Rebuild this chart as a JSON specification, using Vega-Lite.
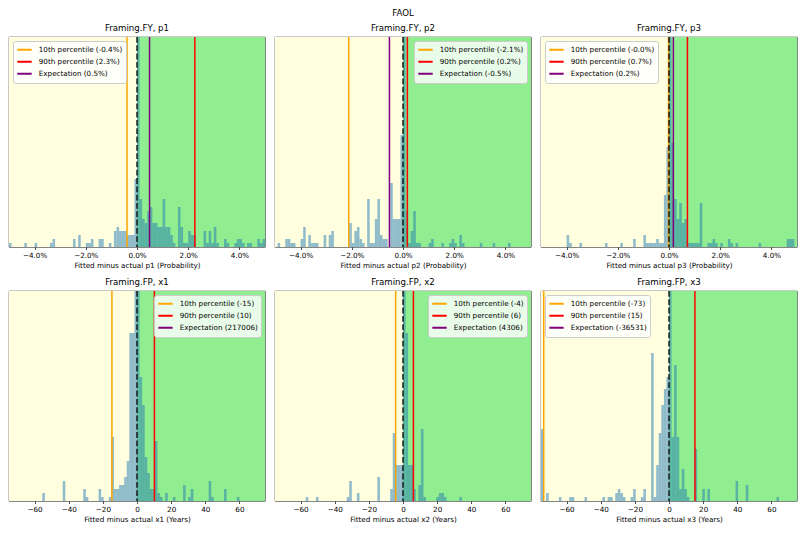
{
  "$schema": "https://vega.github.io/schema/vega-lite/v6.json",
  "padding": {"left": 8, "right": 8, "top": 8, "bottom": 4},
  "title": {"text": "FAOL", "anchor": "middle", "fontSize": 8.6, "offset": 6},
  "datasets": {
    "spans": [
      {"panel": "p1", "side": "below", "lo": -0.05, "hi": 0}, {"panel": "p1", "side": "above", "lo": 0, "hi": 0.05},
      {"panel": "p2", "side": "below", "lo": -0.05, "hi": 0}, {"panel": "p2", "side": "above", "lo": 0, "hi": 0.05},
      {"panel": "p3", "side": "below", "lo": -0.05, "hi": 0}, {"panel": "p3", "side": "above", "lo": 0, "hi": 0.05},
      {"panel": "x1", "side": "below", "lo": -75, "hi": 0}, {"panel": "x1", "side": "above", "lo": 0, "hi": 75},
      {"panel": "x2", "side": "below", "lo": -75, "hi": 0}, {"panel": "x2", "side": "above", "lo": 0, "hi": 75},
      {"panel": "x3", "side": "below", "lo": -75, "hi": 0}, {"panel": "x3", "side": "above", "lo": 0, "hi": 75}
    ],
    "lines": [
      {"panel": "p1", "label": "10th percentile (-0.4%)", "value": -0.0039},
      {"panel": "p1", "label": "90th percentile (2.3%)", "value": 0.0226},
      {"panel": "p1", "label": "Expectation (0.5%)", "value": 0.0049},
      {"panel": "p2", "label": "10th percentile (-2.1%)", "value": -0.0212},
      {"panel": "p2", "label": "90th percentile (0.2%)", "value": 0.0017},
      {"panel": "p2", "label": "Expectation (-0.5%)", "value": -0.0053},
      {"panel": "p3", "label": "10th percentile (-0.0%)", "value": -0.0002},
      {"panel": "p3", "label": "90th percentile (0.7%)", "value": 0.0072},
      {"panel": "p3", "label": "Expectation (0.2%)", "value": 0.0017},
      {"panel": "x1", "label": "10th percentile (-15)", "value": -14.7},
      {"panel": "x1", "label": "90th percentile (10)", "value": 10.2},
      {"panel": "x1", "label": "Expectation (217006)", "value": 217006},
      {"panel": "x2", "label": "10th percentile (-4)", "value": -4.3},
      {"panel": "x2", "label": "90th percentile (6)", "value": 6.1},
      {"panel": "x2", "label": "Expectation (4306)", "value": 4306},
      {"panel": "x3", "label": "10th percentile (-73)", "value": -73.4},
      {"panel": "x3", "label": "90th percentile (15)", "value": 15.2},
      {"panel": "x3", "label": "Expectation (-36531)", "value": -36531}
    ],
    "hist": [
      {"panel": "p1", "lo": -0.05, "hi": -0.049, "count": 1},
      {"panel": "p1", "lo": -0.044, "hi": -0.043, "count": 1},
      {"panel": "p1", "lo": -0.04, "hi": -0.039, "count": 1},
      {"panel": "p1", "lo": -0.034, "hi": -0.033, "count": 1},
      {"panel": "p1", "lo": -0.033, "hi": -0.032, "count": 2},
      {"panel": "p1", "lo": -0.025, "hi": -0.024, "count": 2},
      {"panel": "p1", "lo": -0.023, "hi": -0.022, "count": 3},
      {"panel": "p1", "lo": -0.02, "hi": -0.019, "count": 1},
      {"panel": "p1", "lo": -0.019, "hi": -0.018, "count": 1},
      {"panel": "p1", "lo": -0.018, "hi": -0.017, "count": 2},
      {"panel": "p1", "lo": -0.015, "hi": -0.014, "count": 2},
      {"panel": "p1", "lo": -0.014, "hi": -0.013, "count": 2},
      {"panel": "p1", "lo": -0.011, "hi": -0.01, "count": 1},
      {"panel": "p1", "lo": -0.009, "hi": -0.008, "count": 4},
      {"panel": "p1", "lo": -0.008, "hi": -0.007, "count": 5},
      {"panel": "p1", "lo": -0.007, "hi": -0.006, "count": 4},
      {"panel": "p1", "lo": -0.006, "hi": -0.005, "count": 4},
      {"panel": "p1", "lo": -0.005, "hi": -0.004, "count": 4},
      {"panel": "p1", "lo": -0.004, "hi": -0.003, "count": 3},
      {"panel": "p1", "lo": -0.003, "hi": -0.002, "count": 3},
      {"panel": "p1", "lo": -0.002, "hi": -0.001, "count": 3},
      {"panel": "p1", "lo": -0.001, "hi": 0, "count": 17},
      {"panel": "p1", "lo": 0, "hi": 0.001, "count": 60},
      {"panel": "p1", "lo": 0.001, "hi": 0.002, "count": 12},
      {"panel": "p1", "lo": 0.002, "hi": 0.003, "count": 7},
      {"panel": "p1", "lo": 0.003, "hi": 0.004, "count": 6},
      {"panel": "p1", "lo": 0.004, "hi": 0.005, "count": 9},
      {"panel": "p1", "lo": 0.005, "hi": 0.006, "count": 10},
      {"panel": "p1", "lo": 0.006, "hi": 0.007, "count": 6},
      {"panel": "p1", "lo": 0.007, "hi": 0.008, "count": 6},
      {"panel": "p1", "lo": 0.008, "hi": 0.009, "count": 5},
      {"panel": "p1", "lo": 0.009, "hi": 0.01, "count": 5},
      {"panel": "p1", "lo": 0.01, "hi": 0.011, "count": 12},
      {"panel": "p1", "lo": 0.011, "hi": 0.012, "count": 5},
      {"panel": "p1", "lo": 0.012, "hi": 0.013, "count": 5},
      {"panel": "p1", "lo": 0.013, "hi": 0.014, "count": 3},
      {"panel": "p1", "lo": 0.014, "hi": 0.015, "count": 1},
      {"panel": "p1", "lo": 0.016, "hi": 0.017, "count": 10},
      {"panel": "p1", "lo": 0.017, "hi": 0.018, "count": 5},
      {"panel": "p1", "lo": 0.018, "hi": 0.019, "count": 1},
      {"panel": "p1", "lo": 0.019, "hi": 0.02, "count": 1},
      {"panel": "p1", "lo": 0.02, "hi": 0.021, "count": 4},
      {"panel": "p1", "lo": 0.021, "hi": 0.022, "count": 3},
      {"panel": "p1", "lo": 0.022, "hi": 0.023, "count": 3},
      {"panel": "p1", "lo": 0.026, "hi": 0.027, "count": 4},
      {"panel": "p1", "lo": 0.027, "hi": 0.028, "count": 1},
      {"panel": "p1", "lo": 0.028, "hi": 0.029, "count": 4},
      {"panel": "p1", "lo": 0.029, "hi": 0.03, "count": 1},
      {"panel": "p1", "lo": 0.03, "hi": 0.031, "count": 5},
      {"panel": "p1", "lo": 0.031, "hi": 0.032, "count": 1},
      {"panel": "p1", "lo": 0.034, "hi": 0.035, "count": 2},
      {"panel": "p1", "lo": 0.035, "hi": 0.036, "count": 1},
      {"panel": "p1", "lo": 0.038, "hi": 0.039, "count": 1},
      {"panel": "p1", "lo": 0.039, "hi": 0.04, "count": 2},
      {"panel": "p1", "lo": 0.04, "hi": 0.041, "count": 2},
      {"panel": "p1", "lo": 0.041, "hi": 0.042, "count": 1},
      {"panel": "p1", "lo": 0.043, "hi": 0.044, "count": 1},
      {"panel": "p1", "lo": 0.044, "hi": 0.045, "count": 1},
      {"panel": "p1", "lo": 0.047, "hi": 0.048, "count": 2},
      {"panel": "p1", "lo": 0.048, "hi": 0.049, "count": 1},
      {"panel": "p1", "lo": 0.049, "hi": 0.05, "count": 2},

      {"panel": "p2", "lo": -0.049, "hi": -0.048, "count": 1},
      {"panel": "p2", "lo": -0.046, "hi": -0.045, "count": 2},
      {"panel": "p2", "lo": -0.045, "hi": -0.044, "count": 2},
      {"panel": "p2", "lo": -0.044, "hi": -0.043, "count": 1},
      {"panel": "p2", "lo": -0.043, "hi": -0.042, "count": 1},
      {"panel": "p2", "lo": -0.04, "hi": -0.039, "count": 2},
      {"panel": "p2", "lo": -0.039, "hi": -0.038, "count": 5},
      {"panel": "p2", "lo": -0.037, "hi": -0.036, "count": 3},
      {"panel": "p2", "lo": -0.036, "hi": -0.035, "count": 1},
      {"panel": "p2", "lo": -0.035, "hi": -0.034, "count": 1},
      {"panel": "p2", "lo": -0.034, "hi": -0.033, "count": 1},
      {"panel": "p2", "lo": -0.031, "hi": -0.03, "count": 3},
      {"panel": "p2", "lo": -0.029, "hi": -0.028, "count": 3},
      {"panel": "p2", "lo": -0.028, "hi": -0.027, "count": 4},
      {"panel": "p2", "lo": -0.021, "hi": -0.02, "count": 6},
      {"panel": "p2", "lo": -0.02, "hi": -0.019, "count": 1},
      {"panel": "p2", "lo": -0.019, "hi": -0.018, "count": 4},
      {"panel": "p2", "lo": -0.018, "hi": -0.017, "count": 5},
      {"panel": "p2", "lo": -0.017, "hi": -0.016, "count": 2},
      {"panel": "p2", "lo": -0.016, "hi": -0.015, "count": 1},
      {"panel": "p2", "lo": -0.014, "hi": -0.013, "count": 12},
      {"panel": "p2", "lo": -0.013, "hi": -0.012, "count": 1},
      {"panel": "p2", "lo": -0.012, "hi": -0.011, "count": 1},
      {"panel": "p2", "lo": -0.011, "hi": -0.01, "count": 7},
      {"panel": "p2", "lo": -0.01, "hi": -0.009, "count": 12},
      {"panel": "p2", "lo": -0.009, "hi": -0.008, "count": 3},
      {"panel": "p2", "lo": -0.008, "hi": -0.007, "count": 2},
      {"panel": "p2", "lo": -0.007, "hi": -0.006, "count": 2},
      {"panel": "p2", "lo": -0.005, "hi": -0.004, "count": 16},
      {"panel": "p2", "lo": -0.004, "hi": -0.003, "count": 7},
      {"panel": "p2", "lo": -0.003, "hi": -0.002, "count": 7},
      {"panel": "p2", "lo": -0.002, "hi": -0.001, "count": 7},
      {"panel": "p2", "lo": -0.001, "hi": 0, "count": 28},
      {"panel": "p2", "lo": 0, "hi": 0.001, "count": 60},
      {"panel": "p2", "lo": 0.001, "hi": 0.002, "count": 9},
      {"panel": "p2", "lo": 0.002, "hi": 0.003, "count": 1},
      {"panel": "p2", "lo": 0.003, "hi": 0.004, "count": 4},
      {"panel": "p2", "lo": 0.004, "hi": 0.005, "count": 9},
      {"panel": "p2", "lo": 0.005, "hi": 0.006, "count": 1},
      {"panel": "p2", "lo": 0.006, "hi": 0.007, "count": 1},
      {"panel": "p2", "lo": 0.01, "hi": 0.011, "count": 1},
      {"panel": "p2", "lo": 0.011, "hi": 0.012, "count": 2},
      {"panel": "p2", "lo": 0.015, "hi": 0.016, "count": 1},
      {"panel": "p2", "lo": 0.018, "hi": 0.019, "count": 1},
      {"panel": "p2", "lo": 0.019, "hi": 0.02, "count": 2},
      {"panel": "p2", "lo": 0.02, "hi": 0.021, "count": 1},
      {"panel": "p2", "lo": 0.022, "hi": 0.023, "count": 3},
      {"panel": "p2", "lo": 0.023, "hi": 0.024, "count": 1},
      {"panel": "p2", "lo": 0.03, "hi": 0.031, "count": 1},
      {"panel": "p2", "lo": 0.035, "hi": 0.036, "count": 1},
      {"panel": "p2", "lo": 0.041, "hi": 0.042, "count": 1},

      {"panel": "p3", "lo": -0.04, "hi": -0.039, "count": 3},
      {"panel": "p3", "lo": -0.039, "hi": -0.038, "count": 1},
      {"panel": "p3", "lo": -0.035, "hi": -0.034, "count": 1},
      {"panel": "p3", "lo": -0.025, "hi": -0.024, "count": 1},
      {"panel": "p3", "lo": -0.019, "hi": -0.018, "count": 1},
      {"panel": "p3", "lo": -0.014, "hi": -0.013, "count": 2},
      {"panel": "p3", "lo": -0.01, "hi": -0.009, "count": 3},
      {"panel": "p3", "lo": -0.009, "hi": -0.008, "count": 1},
      {"panel": "p3", "lo": -0.008, "hi": -0.007, "count": 1},
      {"panel": "p3", "lo": -0.007, "hi": -0.006, "count": 1},
      {"panel": "p3", "lo": -0.006, "hi": -0.005, "count": 1},
      {"panel": "p3", "lo": -0.005, "hi": -0.004, "count": 2},
      {"panel": "p3", "lo": -0.004, "hi": -0.003, "count": 1},
      {"panel": "p3", "lo": -0.003, "hi": -0.002, "count": 1},
      {"panel": "p3", "lo": -0.002, "hi": -0.001, "count": 13},
      {"panel": "p3", "lo": -0.001, "hi": 0, "count": 25},
      {"panel": "p3", "lo": 0, "hi": 0.001, "count": 60},
      {"panel": "p3", "lo": 0.001, "hi": 0.002, "count": 26},
      {"panel": "p3", "lo": 0.002, "hi": 0.003, "count": 12},
      {"panel": "p3", "lo": 0.003, "hi": 0.004, "count": 7},
      {"panel": "p3", "lo": 0.004, "hi": 0.005, "count": 11},
      {"panel": "p3", "lo": 0.005, "hi": 0.006, "count": 6},
      {"panel": "p3", "lo": 0.006, "hi": 0.007, "count": 7},
      {"panel": "p3", "lo": 0.007, "hi": 0.008, "count": 1},
      {"panel": "p3", "lo": 0.008, "hi": 0.009, "count": 1},
      {"panel": "p3", "lo": 0.009, "hi": 0.01, "count": 1},
      {"panel": "p3", "lo": 0.01, "hi": 0.011, "count": 1},
      {"panel": "p3", "lo": 0.011, "hi": 0.012, "count": 1},
      {"panel": "p3", "lo": 0.012, "hi": 0.013, "count": 11},
      {"panel": "p3", "lo": 0.015, "hi": 0.016, "count": 1},
      {"panel": "p3", "lo": 0.016, "hi": 0.017, "count": 1},
      {"panel": "p3", "lo": 0.017, "hi": 0.018, "count": 2},
      {"panel": "p3", "lo": 0.018, "hi": 0.019, "count": 1},
      {"panel": "p3", "lo": 0.02, "hi": 0.021, "count": 1},
      {"panel": "p3", "lo": 0.023, "hi": 0.024, "count": 2},
      {"panel": "p3", "lo": 0.024, "hi": 0.025, "count": 1},
      {"panel": "p3", "lo": 0.026, "hi": 0.027, "count": 1},
      {"panel": "p3", "lo": 0.035, "hi": 0.036, "count": 1},
      {"panel": "p3", "lo": 0.046, "hi": 0.047, "count": 2},
      {"panel": "p3", "lo": 0.047, "hi": 0.048, "count": 2},
      {"panel": "p3", "lo": 0.048, "hi": 0.049, "count": 2},

      {"panel": "x1", "lo": -55.5, "hi": -54, "count": 2},
      {"panel": "x1", "lo": -43.5, "hi": -42, "count": 5},
      {"panel": "x1", "lo": -31.5, "hi": -30, "count": 3},
      {"panel": "x1", "lo": -30, "hi": -28.5, "count": 1},
      {"panel": "x1", "lo": -22.5, "hi": -21, "count": 3},
      {"panel": "x1", "lo": -21, "hi": -19.5, "count": 1},
      {"panel": "x1", "lo": -16.5, "hi": -15, "count": 1},
      {"panel": "x1", "lo": -15, "hi": -13.5, "count": 16},
      {"panel": "x1", "lo": -13.5, "hi": -12, "count": 3},
      {"panel": "x1", "lo": -12, "hi": -10.5, "count": 3},
      {"panel": "x1", "lo": -10.5, "hi": -9, "count": 4},
      {"panel": "x1", "lo": -9, "hi": -7.5, "count": 4},
      {"panel": "x1", "lo": -7.5, "hi": -6, "count": 6},
      {"panel": "x1", "lo": -6, "hi": -4.5, "count": 10},
      {"panel": "x1", "lo": -4.5, "hi": -3, "count": 42},
      {"panel": "x1", "lo": -3, "hi": -1.5, "count": 42},
      {"panel": "x1", "lo": -1.5, "hi": 0, "count": 55},
      {"panel": "x1", "lo": 0, "hi": 1.5, "count": 70},
      {"panel": "x1", "lo": 1.5, "hi": 3, "count": 31},
      {"panel": "x1", "lo": 3, "hi": 4.5, "count": 24},
      {"panel": "x1", "lo": 4.5, "hi": 6, "count": 11},
      {"panel": "x1", "lo": 6, "hi": 7.5, "count": 7},
      {"panel": "x1", "lo": 7.5, "hi": 9, "count": 3},
      {"panel": "x1", "lo": 9, "hi": 10.5, "count": 3},
      {"panel": "x1", "lo": 10.5, "hi": 12, "count": 15},
      {"panel": "x1", "lo": 12, "hi": 13.5, "count": 2},
      {"panel": "x1", "lo": 13.5, "hi": 15, "count": 1},
      {"panel": "x1", "lo": 16.5, "hi": 18, "count": 2},
      {"panel": "x1", "lo": 21, "hi": 22.5, "count": 1},
      {"panel": "x1", "lo": 27, "hi": 28.5, "count": 4},
      {"panel": "x1", "lo": 30, "hi": 31.5, "count": 1},
      {"panel": "x1", "lo": 31.5, "hi": 33, "count": 3},
      {"panel": "x1", "lo": 42, "hi": 43.5, "count": 5},
      {"panel": "x1", "lo": 43.5, "hi": 45, "count": 1},
      {"panel": "x1", "lo": 51, "hi": 52.5, "count": 3},
      {"panel": "x1", "lo": 58.5, "hi": 60, "count": 1},

      {"panel": "x2", "lo": -57, "hi": -55.5, "count": 1},
      {"panel": "x2", "lo": -51, "hi": -49.5, "count": 1},
      {"panel": "x2", "lo": -33, "hi": -31.5, "count": 1},
      {"panel": "x2", "lo": -31.5, "hi": -30, "count": 5},
      {"panel": "x2", "lo": -27, "hi": -25.5, "count": 2},
      {"panel": "x2", "lo": -15, "hi": -13.5, "count": 6},
      {"panel": "x2", "lo": -7.5, "hi": -6, "count": 3},
      {"panel": "x2", "lo": -6, "hi": -4.5, "count": 17},
      {"panel": "x2", "lo": -4.5, "hi": -3, "count": 9},
      {"panel": "x2", "lo": -3, "hi": -1.5, "count": 9},
      {"panel": "x2", "lo": -1.5, "hi": 0, "count": 9},
      {"panel": "x2", "lo": 0, "hi": 1.5, "count": 70},
      {"panel": "x2", "lo": 1.5, "hi": 3, "count": 42},
      {"panel": "x2", "lo": 3, "hi": 4.5, "count": 9},
      {"panel": "x2", "lo": 4.5, "hi": 6, "count": 9},
      {"panel": "x2", "lo": 6, "hi": 7.5, "count": 3},
      {"panel": "x2", "lo": 9, "hi": 10.5, "count": 4},
      {"panel": "x2", "lo": 10.5, "hi": 12, "count": 18},
      {"panel": "x2", "lo": 12, "hi": 13.5, "count": 1},
      {"panel": "x2", "lo": 19.5, "hi": 21, "count": 1},
      {"panel": "x2", "lo": 21, "hi": 22.5, "count": 2},
      {"panel": "x2", "lo": 22.5, "hi": 24, "count": 2},
      {"panel": "x2", "lo": 24, "hi": 25.5, "count": 1},
      {"panel": "x2", "lo": 33, "hi": 34.5, "count": 1},

      {"panel": "x3", "lo": -75, "hi": -73.5, "count": 18},
      {"panel": "x3", "lo": -72, "hi": -70.5, "count": 2},
      {"panel": "x3", "lo": -64.5, "hi": -63, "count": 1},
      {"panel": "x3", "lo": -58.5, "hi": -57, "count": 1},
      {"panel": "x3", "lo": -57, "hi": -55.5, "count": 1},
      {"panel": "x3", "lo": -49.5, "hi": -48, "count": 1},
      {"panel": "x3", "lo": -39, "hi": -37.5, "count": 1},
      {"panel": "x3", "lo": -36, "hi": -34.5, "count": 1},
      {"panel": "x3", "lo": -34.5, "hi": -33, "count": 1},
      {"panel": "x3", "lo": -31.5, "hi": -30, "count": 2},
      {"panel": "x3", "lo": -30, "hi": -28.5, "count": 3},
      {"panel": "x3", "lo": -28.5, "hi": -27, "count": 2},
      {"panel": "x3", "lo": -27, "hi": -25.5, "count": 1},
      {"panel": "x3", "lo": -22.5, "hi": -21, "count": 1},
      {"panel": "x3", "lo": -21, "hi": -19.5, "count": 3},
      {"panel": "x3", "lo": -16.5, "hi": -15, "count": 1},
      {"panel": "x3", "lo": -15, "hi": -13.5, "count": 3},
      {"panel": "x3", "lo": -10.5, "hi": -9, "count": 37},
      {"panel": "x3", "lo": -9, "hi": -7.5, "count": 1},
      {"panel": "x3", "lo": -7.5, "hi": -6, "count": 9},
      {"panel": "x3", "lo": -6, "hi": -4.5, "count": 17},
      {"panel": "x3", "lo": -4.5, "hi": -3, "count": 24},
      {"panel": "x3", "lo": -3, "hi": -1.5, "count": 28},
      {"panel": "x3", "lo": -1.5, "hi": 0, "count": 31},
      {"panel": "x3", "lo": 0, "hi": 1.5, "count": 70},
      {"panel": "x3", "lo": 1.5, "hi": 3, "count": 16},
      {"panel": "x3", "lo": 3, "hi": 4.5, "count": 34},
      {"panel": "x3", "lo": 4.5, "hi": 6, "count": 16},
      {"panel": "x3", "lo": 6, "hi": 7.5, "count": 3},
      {"panel": "x3", "lo": 7.5, "hi": 9, "count": 8},
      {"panel": "x3", "lo": 9, "hi": 10.5, "count": 3},
      {"panel": "x3", "lo": 10.5, "hi": 12, "count": 1},
      {"panel": "x3", "lo": 15, "hi": 16.5, "count": 13},
      {"panel": "x3", "lo": 19.5, "hi": 21, "count": 3},
      {"panel": "x3", "lo": 22.5, "hi": 24, "count": 3},
      {"panel": "x3", "lo": 39, "hi": 40.5, "count": 5},
      {"panel": "x3", "lo": 45, "hi": 46.5, "count": 4},
      {"panel": "x3", "lo": 63, "hi": 64.5, "count": 1}
    ]
  },
  "vconcat": [
    {
      "hconcat": [
        {
          "width": 256, "height": 210, "title": "Framing.FY, p1",
          "layer": [
            {"data": {"name": "spans"}, "transform": [{"filter": "datum.panel === 'p1'"}], "mark": {"type": "rect", "clip": true},
             "encoding": {"x": {"field": "lo", "type": "quantitative", "scale": {"domain": [-0.05, 0.05], "nice": false, "zero": false}, "axis": {"values": [-0.04, -0.02, 0, 0.02, 0.04], "format": ".1%", "title": "Fitted minus actual p1 (Probability)"}}, "x2": {"field": "hi"},
              "fill": {"field": "side", "type": "nominal", "scale": {"domain": ["below", "above"], "range": ["#FFFFE0", "#90EE90"]}, "legend": null}}},
            {"data": {"name": "hist"}, "transform": [{"filter": "datum.panel === 'p1'"}], "mark": {"type": "rect", "clip": true, "color": "#1f77b4", "opacity": 0.5},
             "encoding": {"x": {"field": "lo", "type": "quantitative"}, "x2": {"field": "hi"}, "y": {"field": "count", "type": "quantitative", "scale": {"domain": [0, 52.5], "nice": false}, "axis": null}, "y2": {"datum": 0}}},
            {"data": {"name": "lines"}, "transform": [{"filter": "datum.panel === 'p1'"}], "mark": {"type": "rule", "clip": true, "strokeWidth": 1.5, "opacity": 1},
             "encoding": {"x": {"field": "value", "type": "quantitative"}, "stroke": {"field": "label", "type": "nominal", "scale": {"domain": ["10th percentile (-0.4%)", "90th percentile (2.3%)", "Expectation (0.5%)"], "range": ["#FFA500", "#FF0000", "#800080"]}, "legend": {"orient": "top-left", "title": null}}}},
            {"data": {"values": [{"ref": 0}]}, "mark": {"type": "rule", "color": "#000000", "strokeWidth": 1.3, "strokeDash": [5.8, 2.5]}, "encoding": {"x": {"field": "ref", "type": "quantitative"}}}
          ]
        },
        {
          "width": 256, "height": 210, "title": "Framing.FY, p2",
          "layer": [
            {"data": {"name": "spans"}, "transform": [{"filter": "datum.panel === 'p2'"}], "mark": {"type": "rect", "clip": true},
             "encoding": {"x": {"field": "lo", "type": "quantitative", "scale": {"domain": [-0.05, 0.05], "nice": false, "zero": false}, "axis": {"values": [-0.04, -0.02, 0, 0.02, 0.04], "format": ".1%", "title": "Fitted minus actual p2 (Probability)"}}, "x2": {"field": "hi"},
              "fill": {"field": "side", "type": "nominal", "scale": {"domain": ["below", "above"], "range": ["#FFFFE0", "#90EE90"]}, "legend": null}}},
            {"data": {"name": "hist"}, "transform": [{"filter": "datum.panel === 'p2'"}], "mark": {"type": "rect", "clip": true, "color": "#1f77b4", "opacity": 0.5},
             "encoding": {"x": {"field": "lo", "type": "quantitative"}, "x2": {"field": "hi"}, "y": {"field": "count", "type": "quantitative", "scale": {"domain": [0, 52.5], "nice": false}, "axis": null}, "y2": {"datum": 0}}},
            {"data": {"name": "lines"}, "transform": [{"filter": "datum.panel === 'p2'"}], "mark": {"type": "rule", "clip": true, "strokeWidth": 1.5, "opacity": 1},
             "encoding": {"x": {"field": "value", "type": "quantitative"}, "stroke": {"field": "label", "type": "nominal", "scale": {"domain": ["10th percentile (-2.1%)", "90th percentile (0.2%)", "Expectation (-0.5%)"], "range": ["#FFA500", "#FF0000", "#800080"]}, "legend": {"orient": "top-right", "title": null}}}},
            {"data": {"values": [{"ref": 0}]}, "mark": {"type": "rule", "color": "#000000", "strokeWidth": 1.3, "strokeDash": [5.8, 2.5]}, "encoding": {"x": {"field": "ref", "type": "quantitative"}}}
          ]
        },
        {
          "width": 256, "height": 210, "title": "Framing.FY, p3",
          "layer": [
            {"data": {"name": "spans"}, "transform": [{"filter": "datum.panel === 'p3'"}], "mark": {"type": "rect", "clip": true},
             "encoding": {"x": {"field": "lo", "type": "quantitative", "scale": {"domain": [-0.05, 0.05], "nice": false, "zero": false}, "axis": {"values": [-0.04, -0.02, 0, 0.02, 0.04], "format": ".1%", "title": "Fitted minus actual p3 (Probability)"}}, "x2": {"field": "hi"},
              "fill": {"field": "side", "type": "nominal", "scale": {"domain": ["below", "above"], "range": ["#FFFFE0", "#90EE90"]}, "legend": null}}},
            {"data": {"name": "hist"}, "transform": [{"filter": "datum.panel === 'p3'"}], "mark": {"type": "rect", "clip": true, "color": "#1f77b4", "opacity": 0.5},
             "encoding": {"x": {"field": "lo", "type": "quantitative"}, "x2": {"field": "hi"}, "y": {"field": "count", "type": "quantitative", "scale": {"domain": [0, 52.5], "nice": false}, "axis": null}, "y2": {"datum": 0}}},
            {"data": {"name": "lines"}, "transform": [{"filter": "datum.panel === 'p3'"}], "mark": {"type": "rule", "clip": true, "strokeWidth": 1.5, "opacity": 1},
             "encoding": {"x": {"field": "value", "type": "quantitative"}, "stroke": {"field": "label", "type": "nominal", "scale": {"domain": ["10th percentile (-0.0%)", "90th percentile (0.7%)", "Expectation (0.2%)"], "range": ["#FFA500", "#FF0000", "#800080"]}, "legend": {"orient": "top-left", "title": null}}}},
            {"data": {"values": [{"ref": 0}]}, "mark": {"type": "rule", "color": "#000000", "strokeWidth": 1.3, "strokeDash": [5.8, 2.5]}, "encoding": {"x": {"field": "ref", "type": "quantitative"}}}
          ]
        }
      ],
      "spacing": 8,
      "resolve": {"scale": {"x": "independent", "y": "independent", "fill": "independent", "stroke": "independent"}, "legend": {"stroke": "independent", "fill": "independent"}}
    },
    {
      "hconcat": [
        {
          "width": 256, "height": 210, "title": "Framing.FP, x1",
          "layer": [
            {"data": {"name": "spans"}, "transform": [{"filter": "datum.panel === 'x1'"}], "mark": {"type": "rect", "clip": true},
             "encoding": {"x": {"field": "lo", "type": "quantitative", "scale": {"domain": [-75, 75], "nice": false, "zero": false}, "axis": {"values": [-60, -40, -20, 0, 20, 40, 60], "title": "Fitted minus actual x1 (Years)"}}, "x2": {"field": "hi"},
              "fill": {"field": "side", "type": "nominal", "scale": {"domain": ["below", "above"], "range": ["#FFFFE0", "#90EE90"]}, "legend": null}}},
            {"data": {"name": "hist"}, "transform": [{"filter": "datum.panel === 'x1'"}], "mark": {"type": "rect", "clip": true, "color": "#1f77b4", "opacity": 0.5},
             "encoding": {"x": {"field": "lo", "type": "quantitative"}, "x2": {"field": "hi"}, "y": {"field": "count", "type": "quantitative", "scale": {"domain": [0, 52.5], "nice": false}, "axis": null}, "y2": {"datum": 0}}},
            {"data": {"name": "lines"}, "transform": [{"filter": "datum.panel === 'x1'"}], "mark": {"type": "rule", "clip": true, "strokeWidth": 1.5, "opacity": 1},
             "encoding": {"x": {"field": "value", "type": "quantitative"}, "stroke": {"field": "label", "type": "nominal", "scale": {"domain": ["10th percentile (-15)", "90th percentile (10)", "Expectation (217006)"], "range": ["#FFA500", "#FF0000", "#800080"]}, "legend": {"orient": "top-right", "title": null}}}},
            {"data": {"values": [{"ref": 0}]}, "mark": {"type": "rule", "color": "#000000", "strokeWidth": 1.3, "strokeDash": [5.8, 2.5]}, "encoding": {"x": {"field": "ref", "type": "quantitative"}}}
          ]
        },
        {
          "width": 256, "height": 210, "title": "Framing.FP, x2",
          "layer": [
            {"data": {"name": "spans"}, "transform": [{"filter": "datum.panel === 'x2'"}], "mark": {"type": "rect", "clip": true},
             "encoding": {"x": {"field": "lo", "type": "quantitative", "scale": {"domain": [-75, 75], "nice": false, "zero": false}, "axis": {"values": [-60, -40, -20, 0, 20, 40, 60], "title": "Fitted minus actual x2 (Years)"}}, "x2": {"field": "hi"},
              "fill": {"field": "side", "type": "nominal", "scale": {"domain": ["below", "above"], "range": ["#FFFFE0", "#90EE90"]}, "legend": null}}},
            {"data": {"name": "hist"}, "transform": [{"filter": "datum.panel === 'x2'"}], "mark": {"type": "rect", "clip": true, "color": "#1f77b4", "opacity": 0.5},
             "encoding": {"x": {"field": "lo", "type": "quantitative"}, "x2": {"field": "hi"}, "y": {"field": "count", "type": "quantitative", "scale": {"domain": [0, 52.5], "nice": false}, "axis": null}, "y2": {"datum": 0}}},
            {"data": {"name": "lines"}, "transform": [{"filter": "datum.panel === 'x2'"}], "mark": {"type": "rule", "clip": true, "strokeWidth": 1.5, "opacity": 1},
             "encoding": {"x": {"field": "value", "type": "quantitative"}, "stroke": {"field": "label", "type": "nominal", "scale": {"domain": ["10th percentile (-4)", "90th percentile (6)", "Expectation (4306)"], "range": ["#FFA500", "#FF0000", "#800080"]}, "legend": {"orient": "top-right", "title": null}}}},
            {"data": {"values": [{"ref": 0}]}, "mark": {"type": "rule", "color": "#000000", "strokeWidth": 1.3, "strokeDash": [5.8, 2.5]}, "encoding": {"x": {"field": "ref", "type": "quantitative"}}}
          ]
        },
        {
          "width": 256, "height": 210, "title": "Framing.FP, x3",
          "layer": [
            {"data": {"name": "spans"}, "transform": [{"filter": "datum.panel === 'x3'"}], "mark": {"type": "rect", "clip": true},
             "encoding": {"x": {"field": "lo", "type": "quantitative", "scale": {"domain": [-75, 75], "nice": false, "zero": false}, "axis": {"values": [-60, -40, -20, 0, 20, 40, 60], "title": "Fitted minus actual x3 (Years)"}}, "x2": {"field": "hi"},
              "fill": {"field": "side", "type": "nominal", "scale": {"domain": ["below", "above"], "range": ["#FFFFE0", "#90EE90"]}, "legend": null}}},
            {"data": {"name": "hist"}, "transform": [{"filter": "datum.panel === 'x3'"}], "mark": {"type": "rect", "clip": true, "color": "#1f77b4", "opacity": 0.5},
             "encoding": {"x": {"field": "lo", "type": "quantitative"}, "x2": {"field": "hi"}, "y": {"field": "count", "type": "quantitative", "scale": {"domain": [0, 52.5], "nice": false}, "axis": null}, "y2": {"datum": 0}}},
            {"data": {"name": "lines"}, "transform": [{"filter": "datum.panel === 'x3'"}], "mark": {"type": "rule", "clip": true, "strokeWidth": 1.5, "opacity": 1},
             "encoding": {"x": {"field": "value", "type": "quantitative"}, "stroke": {"field": "label", "type": "nominal", "scale": {"domain": ["10th percentile (-73)", "90th percentile (15)", "Expectation (-36531)"], "range": ["#FFA500", "#FF0000", "#800080"]}, "legend": {"orient": "top-left", "title": null}}}},
            {"data": {"values": [{"ref": 0}]}, "mark": {"type": "rule", "color": "#000000", "strokeWidth": 1.3, "strokeDash": [5.8, 2.5]}, "encoding": {"x": {"field": "ref", "type": "quantitative"}}}
          ]
        }
      ],
      "spacing": 8,
      "resolve": {"scale": {"x": "independent", "y": "independent", "fill": "independent", "stroke": "independent"}, "legend": {"stroke": "independent", "fill": "independent"}}
    }
  ],
  "spacing": 8,
  "resolve": {"scale": {"x": "independent", "y": "independent", "fill": "independent", "stroke": "independent"}, "legend": {"stroke": "independent", "fill": "independent"}},
  "config": {
    "font": "DejaVu Sans",
    "view": {"stroke": "#000000", "strokeWidth": 0.7},
    "axis": {"labelFont": "DejaVu Sans", "labelFontSize": 7.2, "labelColor": "#000000", "titleFont": "DejaVu Sans", "titleFontSize": 7.2, "titleFontWeight": "normal", "titleColor": "#000000", "tickColor": "#000000", "tickSize": 2.5, "tickWidth": 0.7, "labelPadding": 2, "titlePadding": 2.5, "domain": false, "grid": false},
    "title": {"font": "DejaVu Sans", "fontSize": 8.6, "fontWeight": "normal", "color": "#000000", "offset": 4},
    "legend": {"labelFont": "DejaVu Sans", "labelFontSize": 7.2, "labelColor": "#000000", "symbolType": "stroke", "symbolSize": 207, "symbolStrokeWidth": 2, "symbolOpacity": 1, "clipHeight": 11.3, "rowPadding": 0, "labelOffset": 5.8, "padding": 3, "offset": 4, "fillColor": "rgba(255,255,255,0.8)", "strokeColor": "#cccccc", "cornerRadius": 2.5, "labelLimit": 300}
  }
}
